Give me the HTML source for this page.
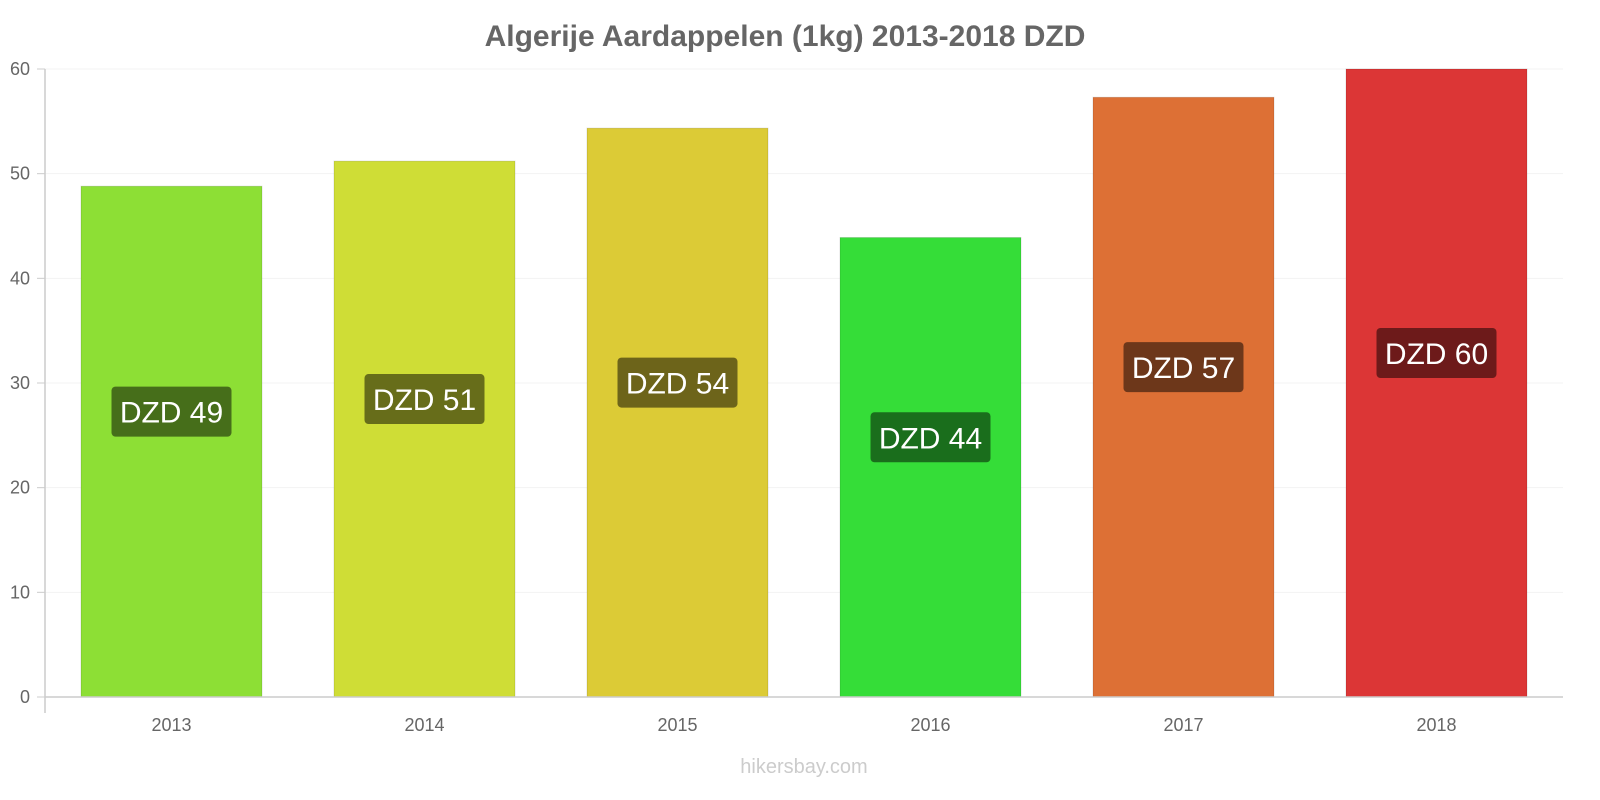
<!DOCTYPE html>
<html><head><meta charset="utf-8"><style>
body{margin:0;background:#fff;}
svg{display:block;font-family:"Liberation Sans",sans-serif;}
</style></head><body>
<svg id="chart" width="1600" height="800">
<text x="785" y="46" text-anchor="middle" font-size="30" font-weight="bold" fill="#666">Algerije Aardappelen (1kg) 2013-2018 DZD</text>
<g id="grid"></g>
<g id="bars"></g>
<g id="axes"></g>
<text x="804" y="773" text-anchor="middle" font-size="20" fill="#ccc">hikersbay.com</text>
</svg>
<script>
const categories=["2013","2014","2015","2016","2017","2018"];
const values=[48.8,51.2,54.35,43.9,57.3,60];
const labels=["DZD 49","DZD 51","DZD 54","DZD 44","DZD 57","DZD 60"];
const yTicks=[0,10,20,30,40,50,60];
const barColors=["#8ddf35","#cfdd36","#dccb36","#35dd38","#dd7035","#dc3636"];
const labelColors=["#466e1a","#676d1a","#6d641a","#1a6e1c","#6d371a","#6d1a1a"];
const NS="http://www.w3.org/2000/svg";
const x0=45,x1=1563,yTop=69,yBot=697,yMax=60;
const band=(x1-x0)/categories.length;
const y=v=>yBot-(v/yMax)*(yBot-yTop);
const xc=i=>x0+band*(i+0.5);
function mk(tag,attrs,parent){const e=document.createElementNS(NS,tag);for(const k in attrs)e.setAttribute(k,attrs[k]);parent.appendChild(e);return e;}
const grid=document.getElementById('grid'),bars=document.getElementById('bars'),axes=document.getElementById('axes');
yTicks.forEach(t=>{
  if(t>0){const g=mk('line',{x1:x0,x2:x1,y1:y(t),y2:y(t),stroke:'#f3f3f3','stroke-width':1},grid);
  
  }
  const tk=mk('line',{x1:x0-8,x2:x0,y1:y(t),y2:y(t),stroke:'#ccc'},axes);
  
  
  const tx=mk('text',{x:x0-15,y:y(t)+6,'text-anchor':'end','font-size':18,fill:'#666'},axes);
  tx.textContent=t;
  
  
});
const ya=mk('line',{x1:x0,x2:x0,y1:yTop,y2:yBot+16,stroke:'#ccc','stroke-width':1.5},axes);


const xa=mk('line',{x1:x0,x2:x1,y1:yBot,y2:yBot,stroke:'#ccc','stroke-width':1.5},axes);


const bw=181;
categories.forEach((c,i)=>{
  const r=mk('rect',{x:xc(i)-bw/2,y:y(values[i]),width:bw,height:yBot-y(values[i]),fill:barColors[i],stroke:'rgba(0,0,0,0.12)','stroke-width':1},bars);
  
  
  const ly=(y(values[i])+yBot)/2-30;
  const lr=mk('rect',{x:xc(i)-60,y:ly-25,width:120,height:50,rx:4,fill:labelColors[i]},bars);
  
  
  const lt=mk('text',{x:xc(i),y:ly+11,'text-anchor':'middle','font-size':30,fill:'#fff'},bars);
  lt.textContent=labels[i];
  
  
  const xt=mk('text',{x:xc(i),y:731,'text-anchor':'middle','font-size':18,fill:'#666'},axes);
  xt.textContent=c;
  
  
});
</script>
</body></html>
